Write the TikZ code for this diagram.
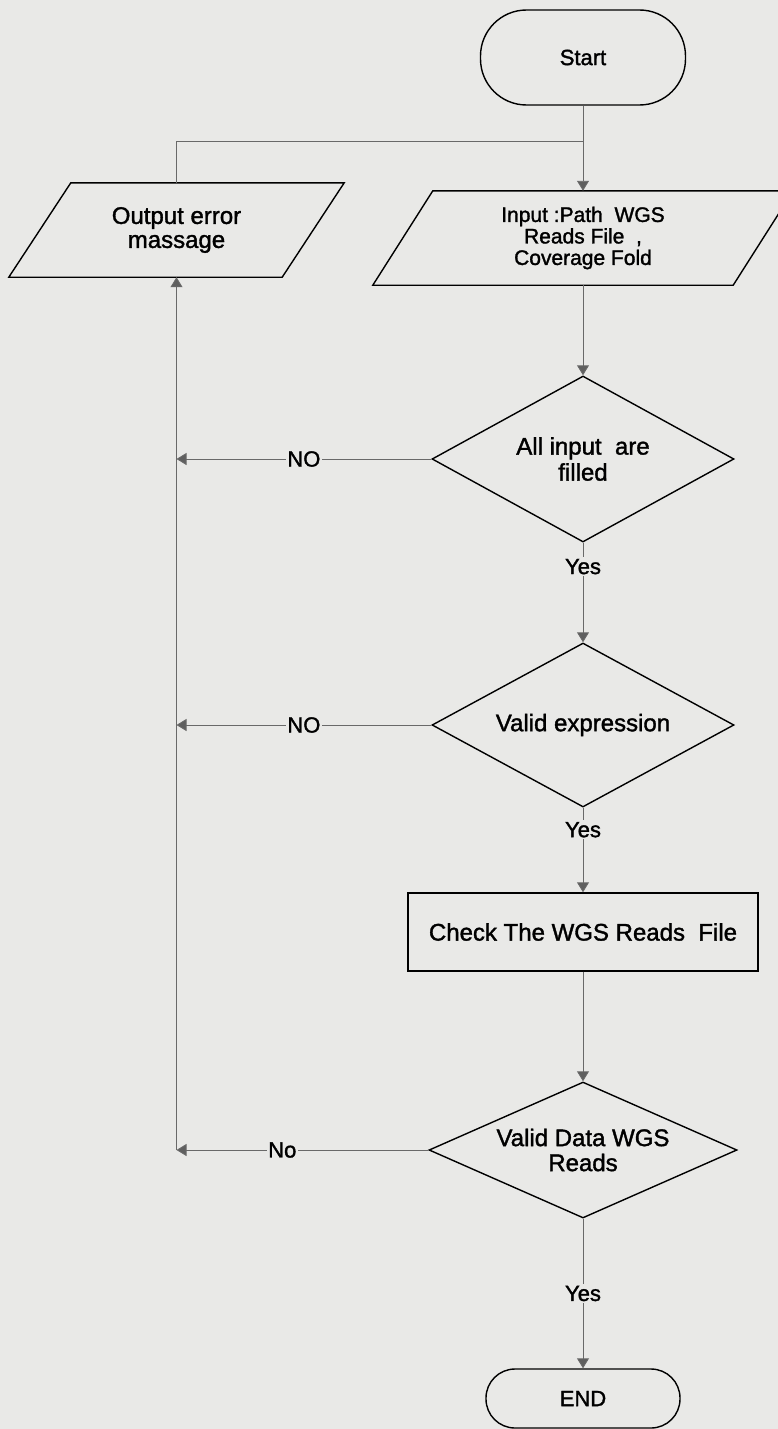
\documentclass[tikz,border=0pt]{standalone}
\usepackage{fontspec}
\setmainfont{Liberation Sans}[FakeBold=1.5]
\usetikzlibrary{shapes.geometric,arrows.meta}
\definecolor{paper}{RGB}{233,233,231}
\definecolor{wire}{RGB}{105,105,105}
\definecolor{tipfill}{RGB}{95,95,95}
\begin{document}
\begin{tikzpicture}[x=1pt,y=-1pt,
  outline/.style={draw=black, line width=1.4pt, line join=miter},
  terminal/.style={outline, rectangle, rounded corners=#1, inner sep=0pt,
    font=\fontsize{22}{24}\selectfont},
  io/.style={rectangle, inner sep=0pt, align=center},
  decision/.style={outline, diamond, inner sep=0pt, align=center,
    font=\fontsize{24}{26}\selectfont},
  process/.style={outline, rectangle, inner sep=0pt,
    font=\fontsize{24}{26}\selectfont},
  wireline/.style={draw=wire, line width=0.9pt},
  flowarrow/.style={wireline, -{Triangle[width=12pt,length=10pt,fill=tipfill]}},
  lab/.style={fill=paper, inner xsep=1.5pt, inner ysep=2pt,
    font=\fontsize{22}{24}\selectfont}
]
\useasboundingbox (0,0) rectangle (778,1429);
\clip (0,0) rectangle (778,1429);
\fill[paper] (0,0) rectangle (778,1429);

% terminals
\node[terminal=46pt, minimum width=205pt, minimum height=95pt] (start) at (583,57.5) {Start};
\node[terminal=29pt, minimum width=194pt, minimum height=59pt] (stop) at (583,1398.5) {END};

% input / output parallelograms (text node + slanted outline)
\node[io, minimum width=273pt, minimum height=94pt, font=\fontsize{24}{24}\selectfont]
  (output) at (176.5,230) {Output error\\massage};
\draw[outline] ([xshift=31pt]output.north west) -- ([xshift=31pt]output.north east)
  -- ([xshift=-31pt]output.south east) -- ([xshift=-31pt]output.south west) -- cycle;

\node[io, minimum width=360pt, minimum height=94pt, font=\fontsize{21}{21.5}\selectfont]
  (input) at (583,238) {Input :Path\ \ WGS\\Reads File\ \ ,\\Coverage Fold};
\draw[outline] ([xshift=30pt]input.north west) -- ([xshift=30pt]input.north east)
  -- ([xshift=-30pt]input.south east) -- ([xshift=-30pt]input.south west) -- cycle;

% decisions and process
\node[decision, minimum width=302pt, minimum height=166pt, aspect=1.82]
  (d1) at (583,459) {All input\ \ are\\filled};
\node[decision, minimum width=302pt, minimum height=164pt, aspect=1.84]
  (d2) at (583,725) {Valid expression};
\node[process, minimum width=350pt, minimum height=78pt]
  (check) at (583,932) {Check The WGS Reads\ \ File};
\node[decision, minimum width=308pt, minimum height=136pt, aspect=2.26,
  font=\fontsize{24}{25}\selectfont]
  (d3) at (583,1150) {Valid Data WGS\\Reads};

% return path on the left
\coordinate (join) at (583,141);
\coordinate (l1) at (output.south |- d1.west);
\coordinate (l2) at (output.south |- d2.west);
\coordinate (l3) at (output.south |- d3.west);

% connectors
\draw[flowarrow] (start) -- (input);
\draw[wireline] (output.north) |- (join);
\draw[flowarrow] (input) -- (d1);
\draw[flowarrow] (d1) -- node[lab, pos=0.24] {Yes} (d2);
\draw[flowarrow] (d2) -- node[lab, pos=0.26] {Yes} (check);
\draw[flowarrow] (check) -- (d3);
\draw[flowarrow] (d3) -- node[lab, pos=0.5] {Yes} (stop);
\draw[flowarrow] (d1.west) -- node[lab] {NO} (l1);
\draw[flowarrow] (d2.west) -- node[lab] {NO} (l2);
\draw[flowarrow] (d3.west) -- node[lab, pos=0.58] {No} (l3);
\draw[flowarrow] (l3) -- (output.south);
\end{tikzpicture}
\end{document}
